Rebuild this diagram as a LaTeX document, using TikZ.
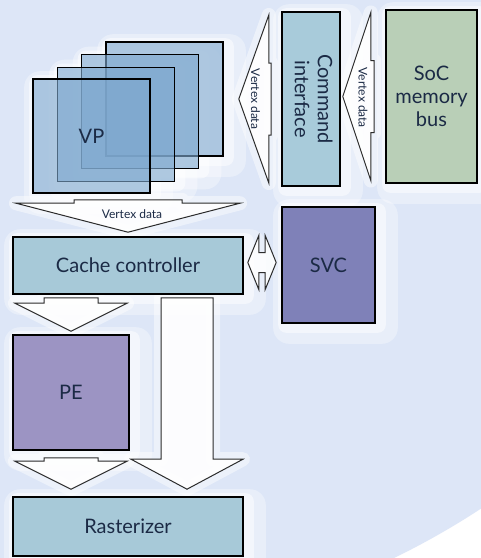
\documentclass[tikz,border=0pt]{standalone}
\usepackage{fontspec}
\setmainfont{Lato}
\usetikzlibrary{calc}
\definecolor{bgblue}  {HTML}{DDE6F7}
\definecolor{vpblue}  {HTML}{7EA8CF}
\definecolor{cmdblue} {HTML}{A8CBDA}
\definecolor{cacheblue}{HTML}{A7C9D8}
\definecolor{socgreen}{HTML}{B9CFB7}
\definecolor{svcpurple}{HTML}{7F81B8}
\definecolor{pepurple}{HTML}{9C94C3}
\definecolor{ink}     {HTML}{1B2A45}
\definecolor{arrline} {HTML}{2B2B2B}
\pgfdeclarelayer{back}
\pgfdeclarelayer{halo}
\pgfsetlayers{back,halo,main}

% block arrow: tail, tip, head length, head half width, shaft half width
\newcommand\fatarrow[5]{%
  \coordinate (fa-t) at #1;
  \coordinate (fa-p) at #2;
  \coordinate (fa-h) at ($(fa-p)!#3!(fa-t)$);
  \begin{pgfonlayer}{halo}
    \draw[arrhalo] ($(fa-t)!#5!90:(fa-p)$) -- ($(fa-h)!#5!90:(fa-p)$) -- ($(fa-h)!#4!90:(fa-p)$) -- (fa-p)
      -- ($(fa-h)!#4!-90:(fa-p)$) -- ($(fa-h)!#5!-90:(fa-p)$) -- ($(fa-t)!#5!-90:(fa-p)$) -- cycle;
  \end{pgfonlayer}
  \draw[blockarr] ($(fa-t)!#5!90:(fa-p)$) -- ($(fa-h)!#5!90:(fa-p)$) -- ($(fa-h)!#4!90:(fa-p)$) -- (fa-p)
    -- ($(fa-h)!#4!-90:(fa-p)$) -- ($(fa-h)!#5!-90:(fa-p)$) -- ($(fa-t)!#5!-90:(fa-p)$) -- cycle;}
% double block arrow: tip a, tip b, head length, head half width, shaft half width
\newcommand\fatdouble[5]{%
  \coordinate (fd-a) at #1;
  \coordinate (fd-b) at #2;
  \coordinate (fd-ha) at ($(fd-a)!#3!(fd-b)$);
  \coordinate (fd-hb) at ($(fd-b)!#3!(fd-a)$);
  \draw[blockarr] (fd-a) -- ($(fd-ha)!#4!90:(fd-b)$) -- ($(fd-ha)!#5!90:(fd-b)$) -- ($(fd-hb)!#5!-90:(fd-a)$)
    -- ($(fd-hb)!#4!-90:(fd-a)$) -- (fd-b) -- ($(fd-hb)!#4!90:(fd-a)$) -- ($(fd-hb)!#5!90:(fd-a)$)
    -- ($(fd-ha)!#5!-90:(fd-b)$) -- ($(fd-ha)!#4!-90:(fd-b)$) -- cycle;}

\begin{document}
\begin{tikzpicture}[
  x=0.5pt, y=-0.5pt,
  % one unit is one pixel of the original figure, y running downwards
  block/.style={draw=black, line width=0.8pt, inner sep=0pt, align=center,
                font=\fontsize{10}{11.5}\selectfont, text=ink},
  vpbox/.style={block, fill=vpblue, fill opacity=0.62, text opacity=1,
                minimum width=58.5pt, minimum height=57pt},
  vdata/.style={font=\fontsize{6}{7}\selectfont, text=ink, inner sep=0pt},
  blockarr/.style={draw=arrline, fill=white, fill opacity=0.85, line width=0.5pt},
  arrhalo/.style={draw=white, fill=white, line width=7pt, opacity=0.45, line join=round}
]
\useasboundingbox (0,0) rectangle (481,558);

\begin{pgfonlayer}{back}
  \fill[white] (0,0) rectangle (481,558);
  \begin{scope}
    \clip (0,0) rectangle (481,558);
    \fill[bgblue] (50,-150) circle (787);
  \end{scope}
\end{pgfonlayer}

% vertex processors, back to front
\node[vpbox] (vp4) at (164.5, 99)   {};
\node[vpbox] (vp3) at (140, 111.5)  {};
\node[vpbox] (vp2) at (116, 124.5)  {};
\node[vpbox] (vp1) at (91.5, 136)   {VP};

\node[block, fill=cmdblue,  minimum width=29pt,   minimum height=87pt]   (cmd)   at (311, 99)    {\rotatebox{-90}{\begin{tabular}{@{}c@{}}Command\\interface\end{tabular}}};
\node[block, fill=socgreen, minimum width=45.5pt, minimum height=86.5pt] (soc)   at (431.5, 96.5) {SoC\\memory\\bus};
\node[block, fill=cacheblue, minimum width=115pt, minimum height=28.5pt] (cache) at (128, 265.5)  {Cache controller};
\node[block, fill=svcpurple, minimum width=46.5pt, minimum height=58pt]  (svc)   at (328.5, 265)  {SVC};
\node[block, fill=pepurple, minimum width=58pt,   minimum height=57.5pt] (pe)    at (71, 392.5)   {PE};
\node[block, fill=cacheblue, minimum width=115pt, minimum height=29.5pt] (rast)  at (128, 526.5)  {Rasterizer};

\begin{pgfonlayer}{halo}
  \foreach \b in {vp1,vp2,vp3,vp4,cmd,soc,cache,svc,pe,rast} {
    \fill[white, opacity=0.35, rounded corners=8pt] ($(\b.north west)+(-8,-7)$) rectangle ($(\b.south east)+(22,20)$);
    \fill[white, opacity=0.5, rounded corners=4pt] ($(\b.north west)+(-3,-3)$) rectangle ($(\b.south east)+(10,9)$);
  }
\end{pgfonlayer}

\fatarrow{($(cmd.west)+(-10,0)$)}{($(vp4.east)+(15,0)$)}{15pt}{42pt}{18pt}
\fatarrow{($(soc.west)+(-11,0)$)}{($(cmd.east |- soc.west)+(2,0)$)}{14pt}{42pt}{18pt}
\fatarrow{($(vp1.south -| cache.north)+(0,6)$)}{($(cache.north)+(0,-4)$)}{14.5pt}{56pt}{27pt}
\fatdouble{($(cache.east)+(4,-3)$)}{($(svc.west |- cache.east)+(-5,-3)$)}{5.5pt}{13.5pt}{5pt}
\fatarrow{($(cache.south -| pe.north)+(0,3)$)}{($(pe.north)+(0,-3)$)}{14pt}{28pt}{13.5pt}
\fatarrow{($(pe.south)+(0,7)$)}{($(pe.south |- rast.north)+(0,-7)$)}{14pt}{28pt}{13.5pt}
\fatarrow{($(cache.south)+(59,3)$)}{($(rast.north)+(59,-7)$)}{15pt}{28pt}{13pt}

\node[vdata, rotate=-90] (vd1) at ($(cmd.west)!.5!(vp4.east)+(3,0)$) {Vertex data};
\node[vdata, rotate=-90] (vd2) at ($(soc.west)!.5!(cmd.east)$)        {Vertex data};
\node[vdata]             (vd3) at ($(vp1.south -| cache.north)!.5!(cache.north)+(4,-1)$) {Vertex data};

\end{tikzpicture}
\end{document}
